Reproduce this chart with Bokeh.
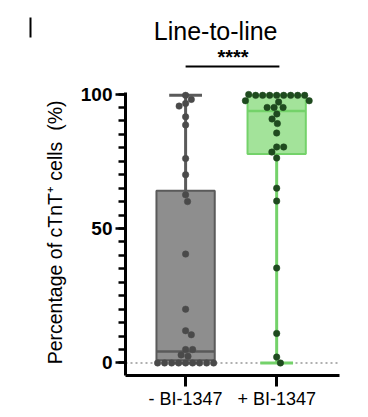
import math
from bokeh.plotting import figure
from bokeh.models import Range1d, FixedTicker, Label, ColumnDataSource, Title, LinearAxis
from bokeh.embed import file_html
from bokeh.resources import INLINE

# ---------------- data ----------------
categories = ["- BI-1347", "+ BI-1347"]
title_text = "Line-to-line"
sig_text = "****"
y_label = "Percentage of cTnT\u207a cells\u00a0 (%)"
y_ticks = [0, 50, 100]

gray_values = [99.5, 98, 96.5, 95.5, 91.5, 88.5, 76, 70, 62.5, 60, 40.5, 20,
               12, 10.5, 5, 5, 3, 2.5, 0, 0, 0, 0, 0, 0, 0, 0, 0]
green_values = [99.5, 99.5, 99.5, 99.5, 99.5, 99.5, 99.5, 99.5, 99.8,
                97.5, 97.5, 97, 95, 95, 95, 92.6, 90.7, 89, 85.5, 80.3, 80.3,
                78.4, 76.2, 65, 60.2, 35.3, 11, 2.2, 0]

# box stats: min, q1, median, q3, max
gray_box = [0, 1.0, 4.3, 64, 99.5]
green_box = [0, 77.7, 93.7, 99.5, 99.5]

# ---------------- layout constants ----------------
PPU_Y = 2.69   # px per y unit
PPU_X = 91.0   # px per x unit
Y0, Y1 = -4.65, 130.3
X0, X1 = 0.34, 2.69
BOX_HW = 0.32
CAP_HW = 0.18

p = figure(frame_width=214, frame_height=363, output_backend="svg",
           toolbar_location=None, x_range=Range1d(X0, X1), y_range=Range1d(Y0, Y1),
           min_border_left=125, min_border_right=20, min_border_top=12,
           min_border_bottom=34, title=None)
p.outline_line_color = None
p.xgrid.visible = False
p.ygrid.visible = False
p.background_fill_color = "white"
p.border_fill_color = "white"

# zero reference line
p.line([X0, X1], [0, 0], line_color="#b0b0b0", line_width=2, line_dash="2 3")


def swarm(vals, d):
    placed = []
    xs = []
    for v in vals:
        y = v * PPU_Y
        cands = [0.0]
        for (px, py) in placed:
            dy = y - py
            if abs(dy) < d:
                dx = math.sqrt(d * d - dy * dy)
                cands += [px + dx, px - dx]
        cands.sort(key=abs)
        chosen = 0.0
        for c in cands:
            if all((c - px) ** 2 + (y - py) ** 2 >= d * d - 1e-6 for (px, py) in placed):
                chosen = c
                break
        placed.append((chosen, y))
        xs.append(chosen / PPU_X)
    return xs


def draw_group(xc, stats, vals, fill, line, median_color, pt_color):
    mn, q1, med, q3, mx = stats
    # whiskers
    p.segment([xc, xc], [q3, q1], [xc, xc], [mx, mn], line_color=line, line_width=3)
    p.segment([xc - CAP_HW, xc - CAP_HW], [mx, mn], [xc + CAP_HW, xc + CAP_HW], [mx, mn],
              line_color=line, line_width=3)
    # box
    p.quad(left=[xc - BOX_HW], right=[xc + BOX_HW], bottom=[q1], top=[q3],
           fill_color=fill, line_color=line, line_width=2)
    p.segment([xc - BOX_HW], [med], [xc + BOX_HW], [med], line_color=median_color, line_width=2.5)
    offs = swarm(vals, 7.0)
    src = ColumnDataSource(dict(x=[xc + o for o in offs], y=vals))
    p.scatter("x", "y", source=src, size=6.5, fill_color=pt_color, line_color=pt_color,
              line_width=0.5)


draw_group(1, gray_box, gray_values, "#8e8e8e", "#5a5a5a", "#5a5a5a", "#4a4a4a")
draw_group(2, green_box, green_values, "#a3e39a", "#74d26a", "#74d26a", "#1f4a1f")

# significance bracket
p.segment([1.0], [110.2], [2.03], [110.2], line_color="black", line_width=2)
p.add_layout(Label(x=1.52, y=113.9, text=sig_text, text_align="center",
                   text_baseline="middle", text_font="Liberation Sans",
                   text_font_size="20px", text_font_style="bold", text_color="black"))
# title
p.add_layout(Label(x=1.33, y=123.6, text=title_text, text_align="center",
                   text_baseline="middle", text_font="Liberation Sans",
                   text_font_size="25px", text_color="black"))

# axes
ya = p.yaxis[0]
ya.ticker = FixedTicker(ticks=y_ticks, minor_ticks=list(range(0, 101, 5)))
ya.bounds = (Y0, 100.5)
ya.axis_line_width = 3
ya.axis_line_color = "black"
ya.major_tick_line_width = 2.5
ya.minor_tick_line_width = 2.5
ya.major_tick_out = 10
ya.major_tick_in = 0
ya.minor_tick_out = 7
ya.minor_tick_in = 0
ya.major_label_text_font = "Liberation Sans"
ya.major_label_text_font_size = "19px"
ya.major_label_text_font_style = "bold"
ya.major_label_text_color = "black"
ya.major_label_standoff = 3

# y label as a left title, anchored from the top of the panel
p.add_layout(Title(text=y_label, align="right", offset=88, standoff=23,
                   text_font="Liberation Sans", text_font_size="19.5px",
                   text_font_style="normal", text_color="black"), "left")

# stray panel mark (bare axis line, no ticks)
mark = LinearAxis(ticker=FixedTicker(ticks=[]), bounds=(120.9, 128.6),
                  axis_line_width=2, axis_line_color="black",
                  major_tick_line_color=None, minor_tick_line_color=None,
                  major_label_text_font_size="0px")
p.add_layout(mark, "left")

xa = p.xaxis[0]
xa.ticker = FixedTicker(ticks=[1, 2])
xa.major_label_overrides = {1: categories[0], 2: categories[1]}
xa.axis_line_width = 3
xa.axis_line_color = "black"
xa.major_tick_line_width = 3
xa.major_tick_out = 11
xa.major_tick_in = 0
xa.minor_tick_line_color = None
xa.major_label_text_font = "Liberation Sans"
xa.major_label_text_font_size = "18px"
xa.major_label_text_color = "black"
xa.major_label_standoff = 2

open("out.html", "w").write(file_html(p, INLINE))
